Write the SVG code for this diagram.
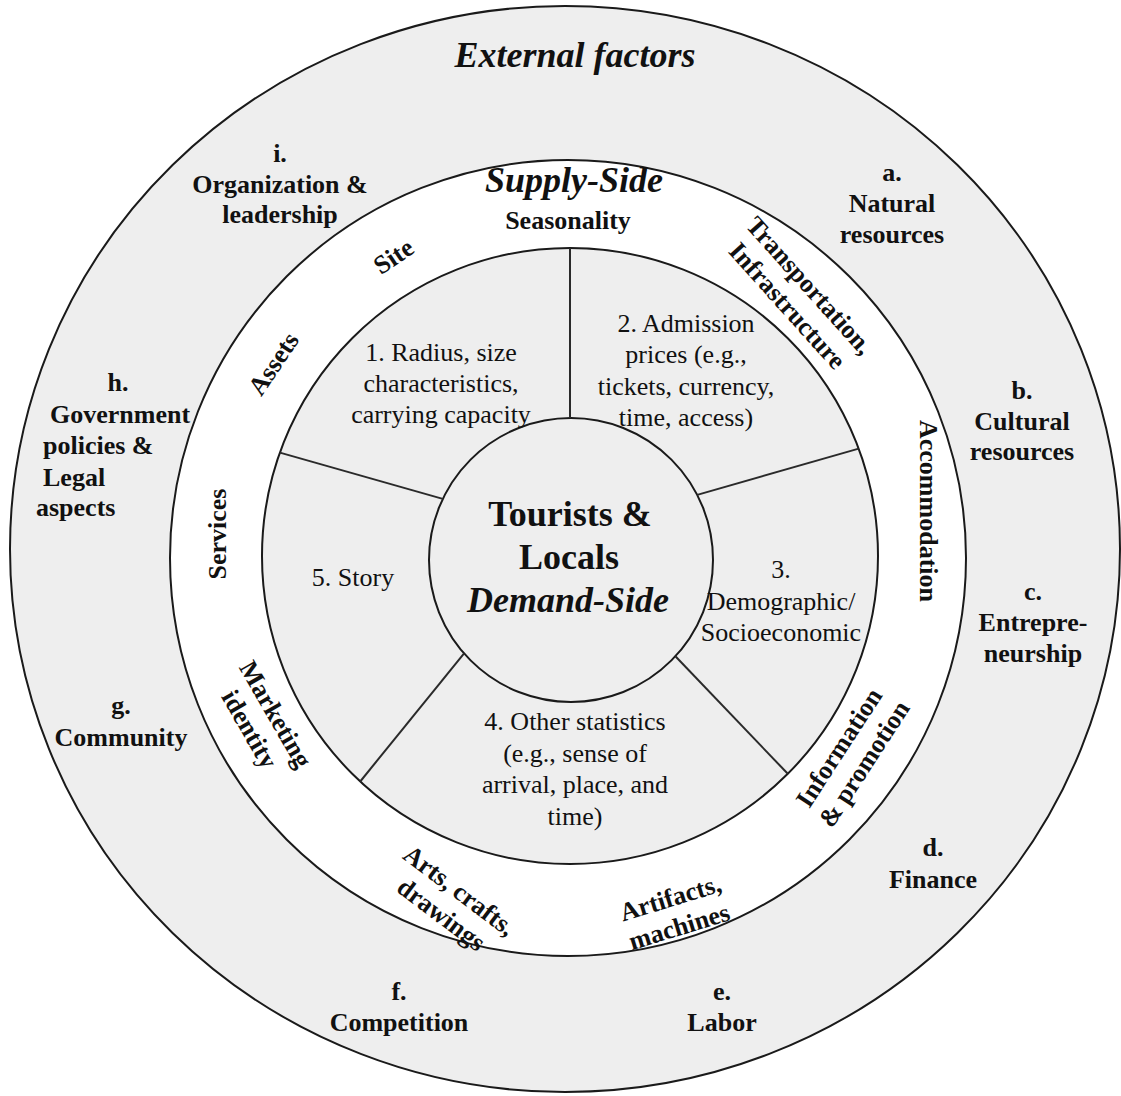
<svg xmlns="http://www.w3.org/2000/svg" width="1121" height="1096" viewBox="0 0 1121 1096">
<style>
.ring{stroke:#1a1a1a;stroke-width:2}
.g{fill:#eeeeee}
.w{fill:#ffffff}
.spoke{stroke:#2a2a2a;stroke-width:2;fill:none}
text{font-family:"Liberation Serif","Times New Roman",serif;fill:#111;text-anchor:middle}
.b{font-weight:bold;font-size:26px}
.r{font-size:26px}
.t{font-weight:bold;font-style:italic;font-size:36px}
.c{font-weight:bold;font-size:36px}
.l{text-anchor:start}
</style>
<rect width="1121" height="1096" fill="#ffffff"/>
<g id="rings">
<ellipse cx="565" cy="549" rx="555" ry="543" class="ring g"/>
<circle cx="568" cy="558" r="398" class="ring w"/>
<circle cx="570" cy="556" r="308" class="ring g"/>
<circle cx="571" cy="560" r="142" class="ring g"/>
</g>
<g id="connectors">
<line class="spoke" x1="570" y1="248" x2="570" y2="418"/>
<line class="spoke" x1="858.7" y1="448.6" x2="697.2" y2="494.9"/>
<line class="spoke" x1="787.8" y1="773.8" x2="675.4" y2="656.3"/>
<line class="spoke" x1="360.2" y1="781.5" x2="464.1" y2="653.3"/>
<line class="spoke" x1="279.9" y1="452.6" x2="442.8" y2="498.9"/>
</g>
<g id="external-title"><text class="t" x="575" y="67">External factors</text></g>
<g id="supply-title"><text class="t" x="574" y="192">Supply-Side</text></g>
<g id="center">
<text class="c" x="570" y="526">Tourists &amp;</text>
<text class="c" x="569" y="569">Locals</text>
<text class="t" x="568" y="612">Demand-Side</text>
</g>
<g id="ext-a"><text class="b" x="892" y="181">a.</text><text class="b" x="892" y="212">Natural</text><text class="b" x="892" y="243">resources</text></g>
<g id="ext-b"><text class="b" x="1022" y="399">b.</text><text class="b" x="1022" y="430">Cultural</text><text class="b" x="1022" y="460">resources</text></g>
<g id="ext-c"><text class="b" x="1033" y="600">c.</text><text class="b" x="1033" y="631">Entrepre-</text><text class="b" x="1033" y="662">neurship</text></g>
<g id="ext-d"><text class="b" x="933" y="856">d.</text><text class="b" x="933" y="888">Finance</text></g>
<g id="ext-e"><text class="b" x="722" y="1000">e.</text><text class="b" x="722" y="1031">Labor</text></g>
<g id="ext-f"><text class="b" x="399" y="1000">f.</text><text class="b" x="399" y="1031">Competition</text></g>
<g id="ext-g"><text class="b" x="121" y="714">g.</text><text class="b" x="121" y="746">Community</text></g>
<g id="ext-h"><text class="b" x="118" y="391">h.</text><text class="b l" x="50" y="423">Government</text><text class="b l" x="43" y="454">policies &amp;</text><text class="b l" x="43" y="486">Legal</text><text class="b l" x="36" y="516">aspects</text></g>
<g id="ext-i"><text class="b" x="280" y="162">i.</text><text class="b" x="280" y="193">Organization &amp;</text><text class="b" x="280" y="223">leadership</text></g>
<g id="supply-seasonality"><text class="b" x="568" y="229">Seasonality</text></g>
<g id="supply-site"><text class="b" transform="translate(394,257) rotate(-34)" x="0" y="8">Site</text></g>
<g id="supply-assets"><text class="b" transform="translate(274,364) rotate(-56)" x="0" y="8">Assets</text></g>
<g id="supply-services"><text class="b" transform="translate(218,534) rotate(-90)" x="0" y="8">Services</text></g>
<g id="supply-marketing"><text class="b" transform="translate(262,722) rotate(60)"><tspan x="0" y="-7">Marketing</tspan><tspan x="0" y="23">identity</tspan></text></g>
<g id="supply-arts"><text class="b" transform="translate(450,903) rotate(37)"><tspan x="0" y="-7">Arts, crafts,</tspan><tspan x="0" y="23">drawings</tspan></text></g>
<g id="supply-artifacts"><text class="b" transform="translate(675,913) rotate(-17)"><tspan x="0" y="-7">Artifacts,</tspan><tspan x="0" y="23">machines</tspan></text></g>
<g id="supply-information"><text class="b" transform="translate(852,756) rotate(-57)"><tspan x="0" y="-7">Information</tspan><tspan x="0" y="23">&amp; promotion</tspan></text></g>
<g id="supply-accommodation"><text class="b" transform="translate(928,511) rotate(90)" x="0" y="8">Accommodation</text></g>
<g id="supply-transportation"><text class="b" transform="translate(798,296) rotate(48)"><tspan x="0" y="-7">Transportation,</tspan><tspan x="0" y="23">Infrastructure</tspan></text></g>
<g id="seg-1"><text class="r" x="441" y="361">1. Radius, size</text><text class="r" x="441" y="392">characteristics,</text><text class="r" x="441" y="423">carrying capacity</text></g>
<g id="seg-2"><text class="r" x="686" y="332">2. Admission</text><text class="r" x="686" y="363">prices (e.g.,</text><text class="r" x="686" y="395">tickets, currency,</text><text class="r" x="686" y="426">time, access)</text></g>
<g id="seg-3"><text class="r" x="781" y="578">3.</text><text class="r" x="781" y="610">Demographic/</text><text class="r" x="781" y="641">Socioeconomic</text></g>
<g id="seg-4"><text class="r" x="575" y="730">4. Other statistics</text><text class="r" x="575" y="762">(e.g., sense of</text><text class="r" x="575" y="793">arrival, place, and</text><text class="r" x="575" y="825">time)</text></g>
<g id="seg-5"><text class="r" x="353" y="586">5. Story</text></g>
</svg>
